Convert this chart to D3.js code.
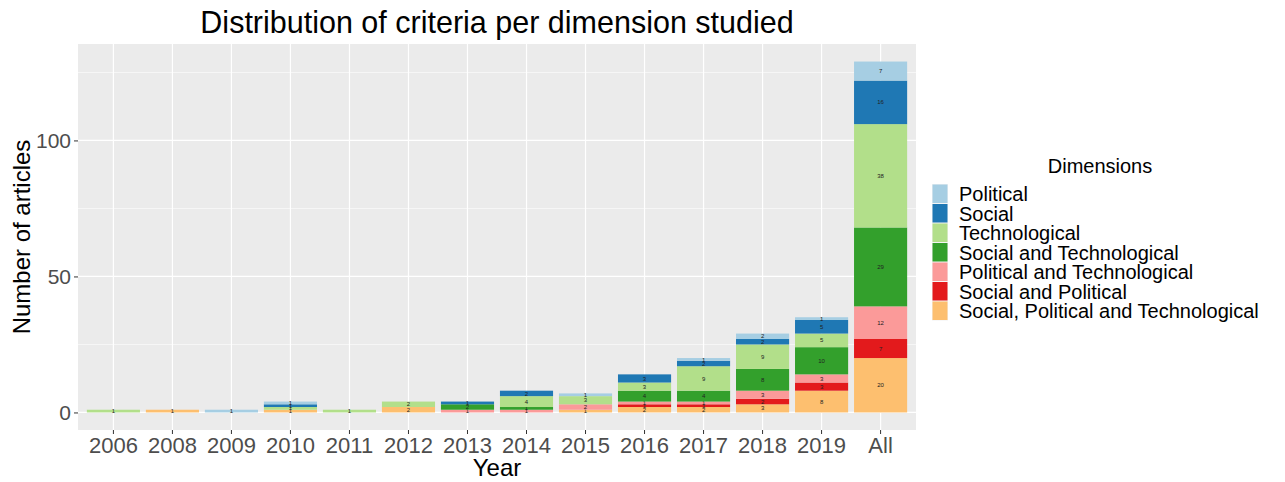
<!DOCTYPE html>
<html>
<head>
<meta charset="utf-8">
<script src="https://cdn.jsdelivr.net/npm/d3@7"></script>
<style>
  body { margin: 0; background: #fff; }
  text { font-family: "Liberation Sans", Arial, sans-serif; }
</style>
</head>
<body>
<div id="wrapper"></div>
<script>
// categories on the x axis
const years = ["2006", "2008", "2009", "2010", "2011", "2012", "2013", "2014", "2015", "2016", "2017", "2018", "2019", "All"];

// dimensions, bottom of the stack first
const dimensions = ["Social, Political and Technological", "Social and Political", "Political and Technological",
    "Social and Technological", "Technological", "Social", "Political"];
const legendOrder = ["Political", "Social", "Technological", "Social and Technological",
    "Political and Technological", "Social and Political", "Social, Political and Technological"];
const colours = ["#FDBF6F", "#E31A1C", "#FB9A99", "#33A02C", "#B2DF8A", "#1F78B4", "#A6CEE3"];

// counts per dimension, one value per year
const socPolTech = [0, 1, 0, 1, 0, 2, 0, 0, 1, 2, 2, 3, 8, 20];
const socPol     = [0, 0, 0, 0, 0, 0, 0, 0, 0, 1, 1, 2, 3, 7];
const polTech    = [0, 0, 0, 0, 0, 0, 1, 1, 2, 1, 1, 3, 3, 12];
const socTech    = [0, 0, 0, 0, 0, 0, 2, 1, 0, 4, 4, 8, 10, 29];
const tech       = [1, 0, 0, 1, 1, 2, 0, 4, 3, 3, 9, 9, 5, 38];
const social     = [0, 0, 0, 1, 0, 0, 1, 2, 0, 3, 2, 2, 5, 16];
const political  = [0, 0, 1, 1, 0, 0, 0, 0, 1, 0, 1, 2, 1, 7];

const yTicks = [0, 50, 100];
const yMinor = [25, 75, 125];

const seriesValues = [socPolTech, socPol, polTech, socTech, tech, social, political];
const rows = years.map((y, i) => {
    const r = {year: y};
    dimensions.forEach((d, k) => r[d] = seriesValues[k][i]);
    return r;
});

const colour = d3.scaleOrdinal().domain(dimensions).range(colours);

var dimension = {
    width: 1285,
    height: 482,
    margin: { top: 44, left: 78, bottom: 52, right: 369 }
};
dimension.boundedWidth = dimension.width - dimension.margin.left - dimension.margin.right;
dimension.boundedHeight = dimension.height - dimension.margin.top - dimension.margin.bottom;

const svg = d3.select("#wrapper").append("svg")
    .attr("width", dimension.width)
    .attr("height", dimension.height);

const stacked = d3.stack().keys(dimensions)(rows);
const maxTotal = d3.max(rows, r => d3.sum(dimensions, d => r[d]));
const pad = maxTotal * 0.05;

const yScaler = d3.scaleLinear()
    .domain([-pad, maxTotal + pad])
    .range([dimension.boundedHeight, 0]);

// ggplot style: 0.6 of a step between the panel edge and the first centre
const xScaler = d3.scaleBand()
    .domain(years)
    .range([0, dimension.boundedWidth])
    .paddingInner(0.1)
    .paddingOuter(0.15);

const bounded = svg.append("g")
    .attr("transform", `translate(${dimension.margin.left},${dimension.margin.top})`);

// panel
bounded.append("rect")
    .attr("width", dimension.boundedWidth)
    .attr("height", dimension.boundedHeight)
    .attr("fill", "#EBEBEB");

bounded.selectAll(".minor").data(yMinor).join("line")
    .attr("x1", 0).attr("x2", dimension.boundedWidth)
    .attr("y1", d => yScaler(d)).attr("y2", d => yScaler(d))
    .attr("stroke", "#fff").attr("stroke-width", 0.6);

bounded.selectAll(".major").data(yTicks).join("line")
    .attr("x1", 0).attr("x2", dimension.boundedWidth)
    .attr("y1", d => yScaler(d)).attr("y2", d => yScaler(d))
    .attr("stroke", "#fff").attr("stroke-width", 1.2);

bounded.selectAll(".vgrid").data(years).join("line")
    .attr("x1", d => xScaler(d) + xScaler.bandwidth() / 2)
    .attr("x2", d => xScaler(d) + xScaler.bandwidth() / 2)
    .attr("y1", 0).attr("y2", dimension.boundedHeight)
    .attr("stroke", "#fff").attr("stroke-width", 1.2);

// bars
const layers = bounded.selectAll(".layer").data(stacked).join("g")
    .attr("fill", d => colour(d.key));

layers.selectAll("rect").data(d => d.filter(p => p[1] > p[0])).join("rect")
    .attr("x", d => xScaler(d.data.year))
    .attr("width", xScaler.bandwidth())
    .attr("y", d => yScaler(d[1]))
    .attr("height", d => yScaler(d[0]) - yScaler(d[1]));

layers.selectAll("text").data(d => d.filter(p => p[1] > p[0])).join("text")
    .attr("x", d => xScaler(d.data.year) + xScaler.bandwidth() / 2)
    .attr("y", d => yScaler((d[0] + d[1]) / 2))
    .attr("dy", "0.35em")
    .attr("text-anchor", "middle")
    .attr("font-size", 6)
    .attr("fill", "#222")
    .text(d => d[1] - d[0]);

// axes
const xAxis = d3.axisBottom(xScaler).tickSize(4).tickPadding(3);
const yAxis = d3.axisLeft(yScaler).tickValues(yTicks).tickSize(4).tickPadding(3);

const gx = bounded.append("g")
    .attr("transform", `translate(0,${dimension.boundedHeight})`)
    .call(xAxis);
const gy = bounded.append("g").call(yAxis);

[gx, gy].forEach(g => {
    g.select(".domain").remove();
    g.selectAll(".tick line").attr("stroke", "#333");
    g.selectAll(".tick text").attr("fill", "#4D4D4D")
        .style("font-family", "Liberation Sans, Arial, sans-serif");
});
gx.selectAll(".tick text").attr("font-size", 22);
gy.selectAll(".tick text").attr("font-size", 21);

// titles
svg.append("text")
    .attr("x", dimension.margin.left + dimension.boundedWidth / 2)
    .attr("y", 33)
    .attr("text-anchor", "middle")
    .attr("font-size", 30.5)
    .text("Distribution of criteria per dimension studied");

svg.append("text")
    .attr("x", dimension.margin.left + dimension.boundedWidth / 2)
    .attr("y", 476)
    .attr("text-anchor", "middle")
    .attr("font-size", 24)
    .text("Year");

svg.append("text")
    .attr("transform", `translate(30,${dimension.margin.top + dimension.boundedHeight / 2}) rotate(-90)`)
    .attr("text-anchor", "middle")
    .attr("font-size", 24)
    .text("Number of articles");

// legend
const legend = svg.append("g").attr("transform", "translate(932,184)");
legend.append("text")
    .attr("x", 168).attr("y", -11)
    .attr("text-anchor", "middle")
    .attr("font-size", 20)
    .text("Dimensions");

const items = legend.selectAll(".item").data(legendOrder).join("g")
    .attr("transform", (d, i) => `translate(0,${i * 19.5})`);
items.append("rect")
    .attr("width", 16).attr("height", 19.5)
    .attr("fill", "#F2F2F2");
items.append("rect")
    .attr("x", 0.5).attr("y", 0.5)
    .attr("width", 15).attr("height", 18.5)
    .attr("fill", d => colour(d));
items.append("text")
    .attr("x", 27).attr("y", 10)
    .attr("dy", "0.35em")
    .attr("font-size", 20)
    .text(d => d);
</script>
</body>
</html>
